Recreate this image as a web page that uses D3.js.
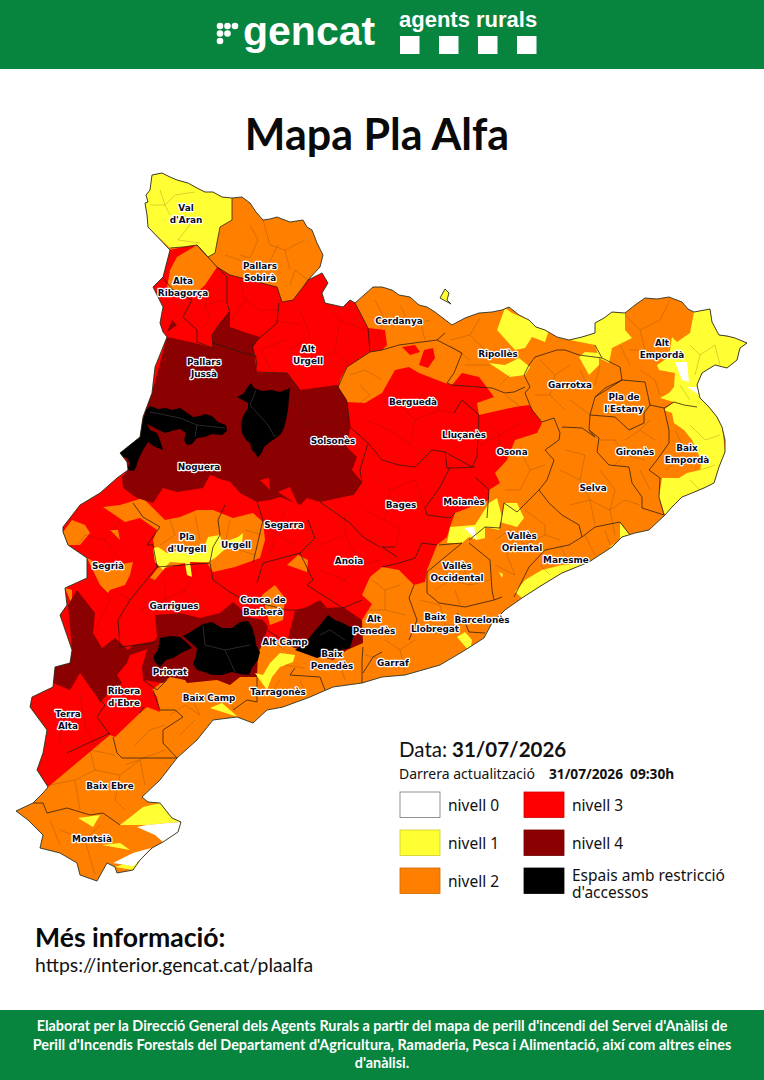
<!DOCTYPE html>
<html>
<head>
<meta charset="utf-8">
<title>Mapa Pla Alfa</title>
<script src="https://cdn.jsdelivr.net/npm/d3@7"></script>
<style>
  html, body { margin: 0; padding: 0; background: #fff; }
  svg { display: block; }
  .label { font-family: "DejaVu Sans", sans-serif; font-weight: bold; font-size: 8.9px; text-anchor: middle;
           fill: #0b0b1e; stroke: #fff; stroke-width: 2.4px; paint-order: stroke; stroke-linejoin: round; }
</style>
</head>
<body>
<svg id="chart" width="764" height="1080"></svg>
<script>
// map units: grid
const outlineRing = [[152,175],[162,173],[170,177],[177,180],[188,183],[197,188],[205,192],[213,192],[222,197],[232,198],[242,197],[250,203],[256,212],[263,220],[270,219],[277,217],[290,222],[303,220],[307,227],[312,230],[317,243],[323,255],[320,267],[308,280],[322,273],[328,283],[322,293],[325,303],[343,307],[350,300],[355,303],[364,295],[373,287],[382,287],[392,290],[399,295],[410,297],[419,305],[427,307],[435,312],[452,325],[465,318],[479,313],[492,312],[502,310],[509,307],[519,315],[529,320],[536,327],[545,330],[557,337],[569,340],[582,337],[595,333],[595,323],[604,318],[612,312],[625,313],[635,305],[645,298],[657,299],[669,297],[682,302],[688,309],[694,312],[710,309],[712,322],[719,335],[727,336],[735,338],[747,343],[740,348],[737,360],[727,368],[715,365],[702,373],[697,385],[700,398],[709,407],[717,417],[722,427],[725,440],[725,452],[719,467],[714,483],[704,488],[692,493],[682,497],[672,507],[665,515],[649,530],[635,533],[622,537],[612,547],[589,562],[562,573],[539,587],[522,598],[505,610],[492,623],[484,638],[462,652],[440,665],[405,675],[382,677],[362,683],[333,687],[310,697],[283,707],[267,710],[253,723],[237,717],[213,720],[197,740],[177,758],[160,780],[142,797],[148,802],[160,803],[172,818],[181,822],[178,832],[163,842],[152,848],[140,860],[133,870],[117,873],[115,867],[107,863],[97,881],[80,875],[77,863],[60,853],[40,848],[43,835],[28,820],[16,811],[33,803],[43,793],[48,787],[37,770],[43,753],[47,730],[30,707],[32,697],[53,687],[55,667],[70,663],[72,650],[60,615],[67,605],[65,588],[87,578],[87,558],[68,545],[63,532],[63,527],[80,505],[100,493],[117,478],[128,470],[127,462],[120,453],[140,437],[143,417],[152,393],[155,367],[167,337],[163,332],[160,323],[163,307],[153,287],[163,277],[170,250],[148,227],[147,215],[145,203],[148,202],[146,195],[150,190],[148,183]];
const lliviaRing = [[440,298],[445,289],[449,293],[447,300],[451,304],[445,305]];

const redZones = [
  [[48,787],[37,770],[43,753],[47,730],[30,707],[32,697],[53,687],[55,667],[70,663],[72,650],[60,615],[67,605],[65,588],[87,578],[87,558],[68,545],[63,532],[63,527],[80,505],[100,493],[117,478],[128,470],[127,462],[120,453],[140,437],[143,417],[152,393],[155,367],[167,337],[163,332],[160,323],[163,307],[153,287],[163,277],[170,250],[183,247],[197,245],[217,267],[230,275],[277,287],[282,302],[293,300],[303,287],[308,280],[322,273],[328,283],[322,293],[325,303],[343,307],[350,300],[355,303],[368,328],[385,330],[387,345],[382,350],[370,352],[347,367],[340,380],[338,392],[347,402],[365,403],[382,393],[395,370],[409,367],[419,373],[445,383],[452,385],[462,373],[479,377],[494,397],[477,403],[479,415],[515,407],[529,405],[542,423],[537,433],[515,440],[507,460],[495,473],[500,483],[489,490],[489,500],[455,513],[450,527],[447,537],[437,545],[427,570],[425,582],[414,585],[399,570],[382,567],[370,577],[362,595],[372,604],[362,620],[340,640],[300,640],[262,640],[230,660],[190,670],[167,678],[152,690],[157,697],[160,712],[147,707],[140,713],[115,737],[110,735],[67,753]],
  [[402,347],[415,345],[420,352],[410,355],[402,353]],
  [[419,365],[424,350],[433,348],[435,358],[428,368],[420,371]]
];
const orangeZones = [
  [[170,270],[177,257],[197,245],[208,257],[217,267],[205,285],[192,297],[167,288],[163,278]],
  [[72,520],[85,525],[90,533],[80,545],[68,545],[63,532],[63,527]],
  [[110,530],[118,530],[120,540],[112,540]],
  [[103,507],[120,505],[143,498],[157,512],[165,520],[180,517],[197,510],[213,510],[233,518],[253,513],[263,522],[265,540],[260,558],[235,567],[222,570],[213,572],[207,563],[190,562],[165,568],[155,580],[150,578],[160,565],[155,550],[153,540],[157,530],[140,518],[125,522],[105,515]],
  [[87,558],[95,562],[112,566],[133,562],[130,575],[125,585],[110,590],[108,593],[100,585],[88,578]],
  [[65,588],[72,590],[72,605],[67,605]],
  [[287,565],[298,555],[308,560],[307,572],[290,572]],
  [[262,595],[275,585],[285,598],[283,620],[270,625],[260,610]]
];
const darkZones = [
  [[167,337],[195,343],[213,348],[212,335],[230,310],[230,327],[247,333],[260,337],[253,347],[257,373],[287,373],[300,390],[337,385],[347,400],[350,427],[347,447],[357,457],[352,470],[362,482],[353,495],[320,502],[307,498],[300,505],[280,497],[270,500],[257,502],[240,493],[233,485],[223,480],[210,475],[203,488],[177,492],[163,488],[153,503],[137,498],[123,488],[122,477],[128,470],[127,462],[120,453],[140,437],[143,417],[152,393],[155,367]],
  [[167,332],[172,320],[177,325],[175,333]],
  [[68,605],[77,590],[95,613],[93,633],[102,648],[115,638],[128,650],[133,645],[160,640],[160,645],[130,655],[127,663],[117,675],[122,683],[107,695],[100,702],[97,697],[92,690],[80,673],[70,690],[53,683],[55,667],[70,663],[72,650],[60,615]],
  [[155,615],[180,613],[200,618],[220,613],[233,602],[240,608],[247,617],[263,620],[268,627],[263,643],[258,653],[257,677],[240,677],[230,685],[217,680],[187,683],[185,680],[170,677],[163,683],[143,680],[142,667],[147,650],[157,637],[158,627]],
  [[295,610],[307,607],[320,600],[327,608],[343,607],[362,620],[363,643],[347,650],[333,660],[310,653],[295,648],[287,643],[300,627]]
];
const redPatches = [
  [[260,480],[269,478],[270,490],[263,494]],
  [[223,480],[231,482],[232,489],[226,490]],
  [[278,492],[290,487],[298,505],[280,510]]
];
const blackZones = [
  [[146,410],[150,406],[158,409],[166,408],[172,410],[180,408],[186,412],[193,417],[200,416],[205,414],[212,416],[218,422],[226,425],[227,431],[222,435],[212,434],[205,437],[197,438],[192,444],[187,445],[184,440],[186,433],[180,429],[172,431],[165,433],[155,428],[147,424],[150,430],[157,433],[160,440],[163,450],[155,447],[148,442],[143,450],[139,458],[136,467],[134,471],[127,470],[130,463],[127,458],[120,456],[119,452],[125,447],[133,441],[135,436],[141,430],[142,423],[144,418]],
  [[237,397],[243,394],[247,388],[251,383],[254,388],[262,391],[272,390],[280,392],[290,388],[289,398],[288,410],[286,420],[284,428],[281,434],[276,438],[270,442],[264,447],[262,452],[258,458],[255,453],[252,450],[250,443],[246,440],[242,433],[241,425],[243,416],[248,408],[248,403],[243,400]],
  [[160,638],[170,636],[180,637],[186,642],[192,648],[183,652],[173,658],[166,660],[160,667],[155,662],[153,657],[158,650],[158,645]],
  [[183,636],[192,631],[203,624],[212,622],[222,628],[232,628],[240,622],[248,621],[252,627],[255,637],[256,645],[260,652],[258,660],[252,668],[249,675],[240,674],[232,672],[222,675],[212,675],[204,672],[197,670],[193,664],[196,656],[197,648],[190,645]],
  [[295,650],[305,643],[313,633],[320,625],[328,615],[335,620],[343,623],[350,627],[357,627],[353,638],[350,648],[342,650],[333,653],[325,655],[317,658],[303,655]]
];
const yellowZones = [
  [[152,175],[162,173],[170,177],[177,180],[188,183],[197,188],[205,192],[213,192],[222,197],[232,198],[232,220],[220,227],[215,253],[208,257],[197,245],[183,247],[170,248],[148,227],[147,215],[145,203],[148,202],[146,195],[150,190],[148,183]],
  [[440,298],[445,289],[449,293],[447,300],[451,304],[445,305]],
  [[497,330],[505,308],[512,313],[529,320],[549,330],[545,342],[532,337],[525,348],[515,350],[502,345]],
  [[489,363],[505,365],[519,358],[530,367],[525,375],[510,377],[499,368]],
  [[570,340],[595,333],[595,323],[612,312],[625,313],[625,330],[632,338],[612,348],[609,363],[599,358],[595,345],[582,345]],
  [[579,357],[585,352],[599,353],[599,365],[589,375],[580,365]],
  [[694,312],[710,309],[712,322],[719,335],[735,338],[747,343],[740,348],[737,360],[727,368],[715,365],[702,373],[697,385],[700,398],[709,407],[717,417],[722,427],[725,452],[719,467],[714,483],[692,493],[682,497],[665,515],[659,497],[662,478],[679,478],[687,473],[700,470],[702,462],[692,440],[684,430],[674,423],[672,413],[664,410],[674,402],[660,398],[669,393],[674,387],[675,373],[659,370],[657,365],[669,357],[672,337],[677,342],[690,333],[690,322]],
  [[489,503],[497,498],[502,517],[504,503],[517,503],[524,518],[517,527],[500,522],[499,530],[485,527],[485,538],[477,540],[469,537],[462,543],[447,543],[450,527],[475,525],[487,518]],
  [[609,547],[620,545],[620,523],[630,535],[612,547]],
  [[589,562],[562,573],[539,587],[522,598],[515,592],[525,580],[542,570],[562,565],[579,563]],
  [[499,572],[503,574],[502,578],[499,578]],
  [[457,637],[465,632],[472,640],[470,652],[458,650]],
  [[153,548],[158,547],[167,553],[205,545],[208,537],[220,535],[222,543],[238,537],[243,533],[242,543],[224,550],[215,558],[208,562],[190,562],[192,577],[187,575],[185,563],[170,562],[163,570],[155,562],[156,556]],
  [[255,673],[263,675],[270,663],[280,653],[295,655],[293,662],[280,667],[272,677],[267,690],[257,688]],
  [[210,708],[222,703],[238,717],[213,722]],
  [[302,697],[318,690],[310,697]],
  [[120,825],[133,815],[143,807],[160,803],[172,818],[181,822],[167,823],[147,825],[137,827]],
  [[78,818],[100,815],[93,827],[83,825]],
  [[102,845],[120,843],[130,850],[113,855]],
  [[115,867],[127,863],[140,863],[133,870],[118,873]]
];
const whiteZones = [
  [[464,528],[474,527],[477,540],[469,539]],
  [[675,362],[687,362],[689,382],[682,380],[677,370]],
  [[687,387],[697,387],[699,395],[692,393]],
  [[685,407],[697,405],[692,413]],
  [[529,590],[532,592],[527,594]],
  [[137,827],[147,825],[167,823],[181,822],[178,832],[163,842],[155,835],[145,835]],
  [[113,863],[133,853],[151,848],[140,860],[133,866],[127,863]]
];

// comarca borders
const comarcaLines = [
  [[232,198],[232,220],[220,227],[215,253],[208,257],[197,245],[183,247],[170,248]],
  [[217,267],[230,275],[277,287],[282,302],[293,300],[303,287],[308,280]],
  [[197,245],[217,267],[227,277],[227,303],[230,312],[220,323],[212,335],[213,348],[197,342],[197,330],[183,317],[192,300],[173,290],[163,278]],
  [[279,303],[277,323],[263,335],[252,345],[257,363],[255,372],[287,373],[300,390]],
  [[213,343],[257,357]],
  [[355,303],[368,328],[370,352],[382,350],[399,345],[437,340],[445,333]],
  [[370,352],[347,367],[338,387],[347,402],[350,427],[368,443],[360,470],[362,482],[353,495]],
  [[437,340],[462,353],[454,373],[447,383],[452,385],[492,388],[505,393],[514,392],[525,387]],
  [[524,375],[530,387],[525,393],[532,410],[542,422],[554,418],[560,433],[559,440],[545,450],[554,460],[547,480],[539,490],[549,503],[562,515],[579,525],[582,537]],
  [[524,375],[529,365],[535,357],[557,350],[565,350],[579,355],[602,358],[620,367],[622,380],[595,397],[590,415],[589,430],[595,437],[582,428],[562,427]],
  [[595,397],[605,388],[622,380],[645,382],[650,405],[644,413],[644,423],[629,430],[615,417],[590,415]],
  [[595,345],[602,358]],
  [[589,430],[599,438],[597,452],[609,465],[629,467],[632,483],[642,497],[642,508],[664,515]],
  [[650,405],[664,408],[669,430],[669,443],[657,460],[649,470],[660,478],[659,497],[664,515]],
  [[664,408],[674,402],[684,405],[697,407]],
  [[539,490],[529,500],[517,512],[504,503],[500,528],[485,527],[469,540]],
  [[489,490],[487,518]],
  [[582,537],[595,527],[620,522],[630,535]],
  [[582,537],[569,545],[545,550],[529,567],[519,587],[514,597]],
  [[469,543],[490,560],[492,590],[494,600],[502,597]],
  [[439,545],[462,543],[427,572],[427,593],[439,603],[465,607],[494,600]],
  [[414,585],[409,598],[417,620],[409,640]],
  [[457,613],[464,620],[469,632],[485,633]],
  [[368,443],[382,460],[399,465],[415,467],[432,450],[445,452],[447,468],[455,468],[475,467]],
  [[454,413],[462,400],[479,415],[477,457],[472,467],[445,452]],
  [[450,467],[440,487],[425,508],[427,515],[450,518],[455,513]],
  [[475,477],[489,490]],
  [[395,547],[382,547],[397,557]],
  [[437,545],[422,543],[415,558],[399,563],[382,567]],
  [[350,523],[363,537],[380,547]],
  [[308,520],[315,538],[300,553],[313,580],[307,585],[327,598],[343,608],[362,600]],
  [[350,523],[320,502]],
  [[120,647],[118,620],[130,600],[157,567],[210,563],[213,580],[230,592],[240,598],[287,610]],
  [[257,583],[263,563],[300,553]],
  [[120,647],[155,643]],
  [[210,562],[213,547],[220,535],[218,520],[225,505]],
  [[133,503],[143,517],[160,527],[147,545],[153,545],[157,567]],
  [[253,563],[260,533],[263,520],[257,502]],
  [[287,610],[295,610]],
  [[267,630],[287,643],[295,648]],
  [[143,680],[157,690],[167,680]],
  [[153,690],[160,710],[175,710],[183,717],[163,730],[163,743],[177,758]],
  [[113,737],[117,753],[122,758],[177,758]],
  [[67,753],[110,733]],
  [[97,717],[110,735]],
  [[97,717],[105,705],[100,700]],
  [[33,803],[43,803],[47,813],[67,808],[90,815],[103,813],[120,825]],
  [[233,710],[247,700],[257,702],[257,677]],
  [[295,668],[290,675],[320,677],[325,690]],
  [[362,683],[362,660],[363,647]],
  [[382,652],[373,657],[363,673]],
  [[143,707],[140,713]]
];

// municipal borders, thin and faint
const muniLines = [
  [[160,190],[165,205],[175,195],[195,192]],[[150,205],[165,205],[170,215]],[[185,215],[190,225],[178,240],[200,243]],
  [[250,225],[258,240],[250,258],[240,255]],[[263,220],[270,245],[285,250],[290,270]],[[305,240],[285,250]],[[278,245],[268,265]],[[225,255],[245,262],[263,270]],[[290,285],[295,270],[308,280]],
  [[300,310],[310,335],[290,350]],[[325,303],[340,320],[335,350],[350,365]],[[300,325],[275,320]],[[285,340],[260,350],[275,375]],[[320,360],[335,350]],[[340,320],[365,330]],
  [[205,305],[210,320],[200,330]],[[210,285],[205,305],[225,300]],[[240,280],[245,300],[260,310],[278,310]],[[245,300],[232,320]],
  [[170,370],[200,385],[230,375]],[[200,385],[195,405]],[[165,345],[175,370]],[[300,400],[305,425],[285,440]],[[305,425],[335,420]],[[310,450],[330,470],[320,500]],
  [[375,300],[385,320],[400,325]],[[400,305],[410,325],[430,320]],[[420,320],[425,340]],[[385,320],[375,340]],[[350,375],[365,370],[382,380]],[[360,385],[370,395],[360,403]],
  [[450,340],[470,335],[485,350]],[[470,335],[480,318]],[[465,365],[490,365]],[[450,345],[470,360]],[[500,385],[510,375]],[[505,395],[525,410]],
  [[540,360],[555,375],[570,365]],[[555,375],[550,395],[565,410]],[[580,370],[590,390]],[[535,395],[550,395]],[[570,400],[590,415]],[[600,365],[595,385]],
  [[625,315],[640,330],[660,320]],[[640,330],[645,350],[665,355]],[[660,320],[670,300]],[[630,350],[645,350]],[[640,370],[655,380],[660,395]],[[620,345],[630,365]],[[690,345],[700,355],[715,345]],[[700,355],[695,375]],[[680,385],[690,400]],[[715,345],[720,365]],
  [[600,440],[615,440],[625,455]],[[625,440],[640,430],[655,440]],[[615,465],[625,455],[645,460]],[[650,420],[640,430]],[[640,470],[650,490]],
  [[675,430],[685,450],[700,450]],[[690,425],[705,440],[720,435]],[[665,470],[680,460]],[[690,480],[700,490]],[[700,470],[715,465]],
  [[560,470],[580,480],[590,500]],[[565,450],[585,455],[580,480]],[[600,470],[615,490],[610,510]],[[590,500],[610,510],[625,500]],[[570,505],[590,500],[595,525]],[[625,500],[640,505]],[[610,510],[615,535]],
  [[520,450],[530,470],[520,490]],[[530,470],[545,465]],[[505,490],[520,490]],
  [[510,530],[525,545],[545,535]],[[545,535],[560,540]],[[525,510],[545,525],[545,535]],[[495,540],[510,530]],[[505,550],[515,575]],[[495,565],[515,575]],
  [[560,545],[570,565]],[[585,535],[595,555]],[[605,530],[610,545]],[[540,565],[550,575]],
  [[440,560],[450,580]],[[460,560],[470,585],[490,580]],[[435,590],[450,580],[470,585]],[[455,590],[460,605]],
  [[420,600],[440,605],[445,625]],[[415,625],[430,630]],[[435,635],[445,625],[460,625]],
  [[372,580],[385,590],[400,585]],[[385,590],[385,610]],[[368,610],[385,610],[405,615]],
  [[385,640],[400,650],[415,640]],[[400,650],[405,672]],[[365,655],[385,660]],
  [[75,780],[95,770],[120,775],[140,760]],[[95,770],[90,750],[115,755]],[[120,775],[115,800],[125,810]],[[50,785],[75,780],[80,810]],[[140,760],[145,785]],
  [[50,820],[60,845]],[[60,830],[85,840],[95,875]],[[85,840],[100,825]],
  [[190,695],[200,715]],[[170,715],[185,705],[200,715]],[[225,695],[235,710]],[[125,765],[165,750]],[[135,745],[150,730],[165,725]],[[180,735],[195,720]],
  [[60,720],[75,715]],[[80,695],[85,725],[95,745]],[[45,710],[62,722],[60,745]],[[120,710],[130,690]],
  [[95,630],[110,600],[100,585]],[[70,555],[85,535],[105,540]],[[120,560],[105,540],[120,520]],[[130,600],[115,590]],
  [[140,610],[165,600],[185,590]],[[185,590],[205,610]],[[165,580],[165,600]],[[195,570],[185,590]],
  [[170,520],[175,535],[160,545]],[[195,515],[200,540]],[[230,520],[225,545],[255,555]],[[245,530],[262,535]],
  [[270,530],[295,545]],[[285,510],[275,535],[270,555]],
  [[320,545],[345,535],[345,515]],[[320,570],[345,580],[360,565],[345,535]],[[360,565],[380,560]],[[335,590],[345,580]],
  [[370,470],[390,490],[415,480]],[[390,490],[385,520],[400,530]],[[415,480],[425,508]],[[365,510],[385,520]],[[400,530],[395,547]],
  [[390,395],[415,420],[440,410]],[[415,420],[410,445]],[[365,420],[390,430],[410,445]],[[430,395],[440,410],[454,413]],
  [[485,420],[500,435],[525,420]],[[500,435],[495,460]],[[480,445],[500,435]],
  [[270,695],[280,680]],[[300,680],[305,692]],[[285,665],[305,668]],[[340,665],[345,680]],[[270,640],[285,650]]
];

// faint grey borders showing inside the black areas
const blackLines = [
  [[150,412],[180,418],[197,425],[195,437]],[[197,425],[225,428]],
  [[256,390],[250,405],[268,425],[275,437]],
  [[203,625],[205,645],[225,650],[235,672]],[[225,650],[250,645]],[[320,635],[330,630],[345,640]]
];

const labelNames = [
  ["Val","d'Aran"],["Pallars","Sobirà"],["Alta","Ribagorça"],["Cerdanya"],["Alt","Urgell"],["Pallars","Jussà"],
  ["Ripollès"],["Alt","Empordà"],["Garrotxa"],["Pla de","l'Estany"],["Berguedà"],["Solsonès"],["Lluçanès"],["Osona"],
  ["Gironès"],["Baix","Empordà"],["Noguera"],["Selva"],["Moianès"],["Bages"],["Segarra"],["Pla","d'Urgell"],["Urgell"],
  ["Vallès","Oriental"],["Anoia"],["Segrià"],["Maresme"],["Vallès","Occidental"],["Garrigues"],["Conca de","Barberà"],
  ["Alt","Penedès"],["Baix","Llobregat"],["Barcelonès"],["Alt Camp"],["Priorat"],["Baix","Penedès"],["Garraf"],
  ["Ribera","d'Ebre"],["Baix Camp"],["Tarragonès"],["Terra","Alta"],["Baix Ebre"],["Montsià"]
];
const labelAnchors = [
  [186,211],[260,269],[183,284],[399,324],[308,352],[204,365],[498,357],[662,346],[570,388],[624,400],[413,405],[333,444],
  [464,438],[512,455],[635,455],[687,451],[199,470],[593,491],[464,505],[401,508],[284,528],[187,540],[236,548],[522,539],
  [349,564],[108,569],[566,563],[457,569],[174,609],[263,603],[374,622],[435,620],[482,623],[285,645],[170,675],[332,657],
  [393,666],[124,694],[209,701],[278,695],[68,717],[110,789],[92,842]
];

const levelLabels = ["nivell 0","nivell 1","nivell 2","nivell 3","nivell 4"];
const accessLabel = ["Espais amb restricció","d'accessos"];
const levelColors = ["#ffffff","#ffff33","#ff8000","#ff0000","#8b0000","#000000"];
const legendRows = [0,1,2];
const legendCols = [0,1];

const footerLines = [
  "Elaborat per la Direcció General dels Agents Rurals a partir del mapa de perill d'incendi del Servei d'Anàlisi de",
  "Perill d'Incendis Forestals del Departament d'Agricultura, Ramaderia, Pesca i Alimentació, així com altres eines",
  "d'anàlisi."
];
const shieldBlocks = [0,1,2,3];
const logoDots = [[0,0],[1,0],[2,0],[0,1],[1,1],[0,2]];

const green = "#07843e";
const svg = d3.select("#chart");

// header + footer bands
svg.append("rect").attr("width", 764).attr("height", 69).attr("fill", green);
svg.append("rect").attr("y", 1010).attr("width", 764).attr("height", 70).attr("fill", green);

const dotX = d3.scaleLinear().domain([0, 2]).range([220, 235]);
const dotY = d3.scaleLinear().domain([0, 2]).range([26, 41]);
svg.selectAll(".logo-dot").data(logoDots).enter().append("circle")
  .attr("class", "logo-dot")
  .attr("cx", d => dotX(d[0]))
  .attr("cy", d => dotY(d[1]))
  .attr("r", 3.3)
  .attr("fill", "#fff");
svg.append("text").attr("x", 243).attr("y", 45)
  .style("font", "bold 41px 'Liberation Sans', sans-serif").attr("fill", "#fff").text("gencat");
svg.append("text").attr("x", 399).attr("y", 27)
  .style("font", "bold 22px 'Liberation Sans', sans-serif").attr("fill", "#fff").text("agents rurals");
const blockX = d3.scalePoint().domain(shieldBlocks).range([400, 517]);
svg.selectAll(".block").data(shieldBlocks).enter().append("rect")
  .attr("class", "block")
  .attr("x", d => blockX(d))
  .attr("y", 36).attr("width", 19.5).attr("height", 18)
  .attr("fill", "#fff");

svg.append("text").attr("x", 377).attr("y", 150).attr("text-anchor", "middle")
  .style("font", "bold 43px Lato, sans-serif").attr("fill", "#0a0a0a").text("Mapa Pla Alfa");

// map
const projection = d3.geoIdentity();
const path = d3.geoPath(projection);
const poly = ring => ({ type: "Polygon", coordinates: [ring] });

const defs = svg.append("defs");
defs.append("clipPath").attr("id", "land").append("path")
  .attr("d", path({ type: "MultiPolygon", coordinates: [[outlineRing], [lliviaRing]] }));

const map = svg.append("g");
const zones = map.append("g").attr("clip-path", "url(#land)");

zones.append("path").attr("d", path(poly(outlineRing))).attr("fill", levelColors[2]);
[[redZones, 3], [orangeZones, 2], [darkZones, 4], [redPatches, 3], [blackZones, 5], [yellowZones, 1], [whiteZones, 0]].forEach(function (layer) {
  zones.selectAll(null).data(layer[0]).enter().append("path")
    .attr("d", d => path(poly(d)))
    .attr("fill", levelColors[layer[1]]);
});

zones.append("path")
  .attr("d", path({ type: "MultiLineString", coordinates: muniLines }))
  .attr("fill", "none").attr("stroke", "#3a2408").attr("stroke-width", 0.5).attr("stroke-opacity", 0.4);
zones.append("path")
  .attr("d", path({ type: "MultiLineString", coordinates: blackLines }))
  .attr("fill", "none").attr("stroke", "#3a3a3a").attr("stroke-width", 0.7);
zones.append("path")
  .attr("d", path({ type: "MultiLineString", coordinates: comarcaLines }))
  .attr("fill", "none").attr("stroke", "#2a1a10").attr("stroke-width", 0.9).attr("stroke-opacity", 0.85);

map.append("path")
  .attr("d", path({ type: "MultiPolygon", coordinates: [[outlineRing], [lliviaRing]] }))
  .attr("fill", "none").attr("stroke", "#2a2a1a").attr("stroke-width", 0.9);

const labels = map.selectAll(".label").data(labelNames).enter().append("text")
  .attr("class", "label")
  .attr("transform", (d, i) => "translate(" + projection(labelAnchors[i]).join(",") + ")");
labels.selectAll("tspan").data(d => d).enter().append("tspan")
  .attr("x", 0)
  .attr("dy", (d, i) => i ? 12.4 : 0)
  .text(d => d);

// date block
svg.append("text").attr("x", 399).attr("y", 757)
  .style("font", "20.5px Lato, sans-serif").attr("fill", "#111").text("Data:");
svg.append("text").attr("x", 452).attr("y", 757)
  .style("font", "bold 20.5px Lato, sans-serif").attr("fill", "#111").text("31/07/2026");
svg.append("text").attr("x", 399).attr("y", 779)
  .style("font", "14px 'Noto Sans', sans-serif").attr("fill", "#111").text("Darrera actualització");
svg.append("text").attr("x", 549).attr("y", 779)
  .style("font", "bold 13.7px 'Noto Sans', sans-serif").style("white-space", "pre").attr("fill", "#111").text("31/07/2026  09:30h");

// legend
const rowY = d3.scalePoint().domain(legendRows).range([792, 868]);
const colX = d3.scalePoint().domain(legendCols).range([400, 524]);
const legendItems = levelColors.map((c, i) => ({ color: c, row: i % 3, col: Math.floor(i / 3), text: levelLabels[i] }));
const legend = svg.selectAll(".legend-item").data(legendItems).enter().append("g")
  .attr("class", "legend-item")
  .attr("transform", d => "translate(" + colX(d.col) + "," + rowY(d.row) + ")");
legend.append("rect")
  .attr("width", 40).attr("height", 25.5)
  .attr("fill", d => d.color)
  .attr("stroke", d => d.row === 0 && d.col === 0 ? "#777" : d3.color(d.color).darker(0.6))
  .attr("stroke-width", 0.8);
legend.filter(d => d.text).append("text")
  .attr("x", 48).attr("y", 19)
  .style("font", "15.5px 'Noto Sans', sans-serif").attr("fill", "#111")
  .text(d => d.text);
// the two lines sit closer than the font's line box, keep them in one text
svg.append("text")
  .attr("transform", "translate(" + (colX(1) + 48) + "," + (rowY(2) + 13) + ")")
  .style("font", "15.5px 'Noto Sans', sans-serif").attr("fill", "#111")
  .selectAll("tspan").data(accessLabel).enter().append("tspan")
  .attr("x", 0)
  .attr("dy", (d, i) => i ? 16.5 : 0)
  .text(d => d);

// more info
svg.append("text").attr("x", 35).attr("y", 947)
  .style("font", "bold 26.6px Lato, sans-serif").attr("fill", "#0a0a0a").text("Més informació:");
svg.append("text").attr("x", 35).attr("y", 972)
  .style("font", "19.4px Lato, sans-serif").attr("fill", "#111").text("https://interior.gencat.cat/plaalfa");

svg.selectAll(".foot").data(footerLines).enter().append("text")
  .attr("class", "foot")
  .attr("x", 382)
  .attr("y", (d, i) => 1031 + i * 18.5)
  .attr("text-anchor", "middle")
  .style("font", "bold 14.4px Lato, sans-serif")
  .attr("fill", "#fff")
  .text(d => d);
</script>
</body>
</html>
